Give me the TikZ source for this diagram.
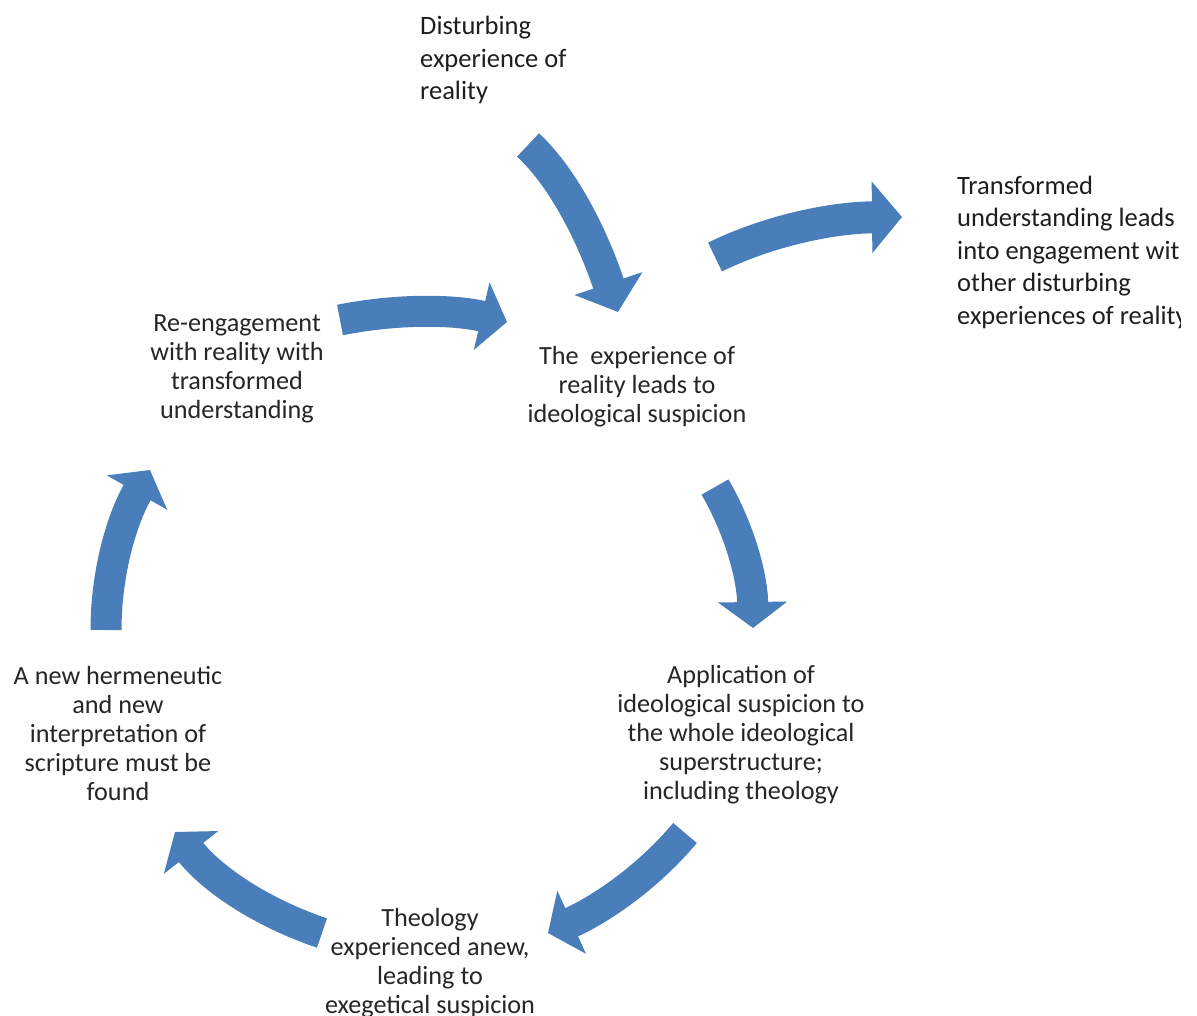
\documentclass[tikz,border=0pt]{standalone}
\usepackage{fontspec}
\setmainfont{Carlito}
\usetikzlibrary{arrows.meta}
\definecolor{arrowblue}{HTML}{4A7EBB}
\definecolor{txtdark}{HTML}{1E1E1E}
\definecolor{txtgray}{HTML}{262626}
\tikzset{
  bigarrow/.style={draw=arrowblue, line width=32pt, line cap=butt,
    -{Triangle[length=30pt,width=70pt]}},
  cyclearrow/.style={draw=arrowblue, line width=31pt, line cap=butt,
    -{Triangle[length=26pt,width=68pt]}},
  toptext/.style={inner sep=0pt, align=left, text=txtdark, font=\fontsize{26.5}{32.5}\selectfont},
  cycletext/.style={inner sep=0pt, align=center, text=txtgray, font=\fontsize{26.2}{29}\selectfont}
}
\begin{document}
\begin{tikzpicture}[x=1pt,y=-1pt]
\useasboundingbox (0,0) rectangle (1197,1015);
\fill[white] (0,0) rectangle (1197,1015);

% texts
\node[toptext, anchor=west] (dist) at (420,60) {Disturbing\\experience of\\reality};
\begin{scope}
\clip (0,0) rectangle (1180,1015);
\node[toptext, anchor=west] (trans) at (957,252) {Transformed\\understanding leads\\into engagement with\\other disturbing\\experiences of reality};
\end{scope}
\node[cycletext] (exp) at (637,387) {The\ \ experience of\\reality leads to\\ideological suspicion};
\node[cycletext] (reeng) at (237,369) {Re-engagement\\with reality with\\transformed\\understanding};
\node[cycletext] (appl) at (741,735) {Application of\\ideological suspicion to\\the whole ideological\\superstructure;\\including theology};
\node[cycletext] (herm) at (118,733) {A new hermeneutic\\and new\\interpretation of\\scripture must be\\found};
\node[cycletext] (theo) at (430,963) {Theology\\experienced anew,\\leading to\\exegetical suspicion};

% arrow end points
\coordinate (a1s) at (528,145); \coordinate (a1e) at (618,312);
\coordinate (a2s) at (715,257); \coordinate (a2e) at (902,217);
\coordinate (a3s) at (340,320); \coordinate (a3e) at (507,322);
\coordinate (a4s) at (715,487); \coordinate (a4e) at (753,628);
\coordinate (a5s) at (685,833); \coordinate (a5e) at (548,933);
\coordinate (a6s) at (322,933); \coordinate (a6e) at (175,832);
\coordinate (a7s) at (106,630); \coordinate (a7e) at (150,470);

\draw[bigarrow] (a1s) .. controls (560.7,175) and (590.7,230.7) .. (a1e);
\draw[bigarrow] (a2s) .. controls (768.3,231) and (830.7,217.7) .. (a2e);
\draw[cyclearrow] (a3s) .. controls (396.7,308.7) and (452.3,309.3) .. (a3e);
\draw[cyclearrow] (a4s) .. controls (739.7,529.7) and (752.3,576.7) .. (a4e);
\draw[cyclearrow] (a5s) .. controls (651,873.7) and (605.3,907) .. (a5e);
\draw[cyclearrow] (a6s) .. controls (260.7,912.3) and (211.7,878.7) .. (a6e);
\draw[cyclearrow] (a7s) .. controls (106,574.7) and (120.7,521.3) .. (a7e);
\end{tikzpicture}
\end{document}
